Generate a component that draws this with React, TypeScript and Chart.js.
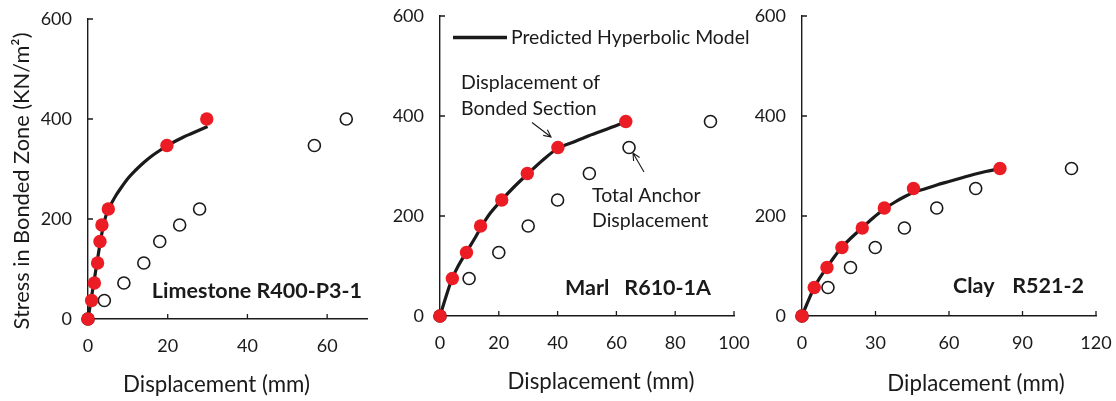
import { useEffect, useRef } from 'react';
import { Chart, registerables } from 'chart.js';

Chart.register(...registerables);

const W = 1116;
const H = 401;
const FONT = 'Lato, "Open Sans", sans-serif';
const INK = '#1a1a1a';
const RED = '#ec1c24';

// ---------------- Data ----------------
const yTicks = [0, 200, 400, 600];

// Limestone R400-P3-1
const limeXTicks = [0, 20, 40, 60];
const limeStress = [0, 37, 72, 112, 155, 188, 220, 347, 400];
const limeBonded = [0, 0.9, 1.6, 2.4, 3.0, 3.5, 5.1, 19.8, 29.8];
const limeTotal = [0, 4.1, 9, 14, 18, 23, 28, 56.8, 64.8];
const limeModelX = [0, 0.5, 1, 1.5, 2, 2.5, 3, 3.5, 4, 5, 6, 7, 8, 10, 12, 14, 16, 18, 20, 22, 24, 26, 28, 30];
const limeModelY = [0, 25, 50, 75, 100, 125, 150, 172, 192, 218, 233, 247, 259, 281, 298, 313, 326, 337, 347, 356, 364, 371, 378, 385];

// Marl R610-1A
const marlXTicks = [0, 20, 40, 60, 80, 100];
const marlStress = [0, 75, 127, 180, 232, 285, 337, 389];
const marlBonded = [0, 4.2, 9.0, 13.8, 21.0, 29.7, 40.1, 63.2];
const marlTotal = [0, 9.9, 20, 30, 40, 50.8, 64.3, 92];
const marlModelX = [0, 2, 4, 6, 9, 12, 14, 17, 21, 25, 30, 35, 40, 45, 50, 55, 60, 63];
const marlModelY = [0, 38, 73, 98, 128, 157, 178, 205, 232, 257, 285, 312, 335, 347, 359, 370, 381, 388];

// Clay R521-2
const clayXTicks = [0, 30, 60, 90, 120];
const clayStress = [0, 57, 97, 137, 176, 216, 255, 295];
const clayBonded = [0, 5.0, 10.2, 16.3, 24.6, 33.6, 45.5, 80.8];
const clayTotal = [0, 10.6, 19.8, 29.9, 41.8, 55, 70.9, 110];
const clayModelX = [0, 2, 5, 7.5, 10, 13, 16, 20, 24, 29, 33, 38, 42, 46, 50, 55, 60, 65, 70, 75, 80];
const clayModelY = [0, 24, 57, 78, 96, 117, 136, 156, 174, 196, 212, 228, 239, 248, 254, 262, 269, 276, 283, 289, 294];

const legendLabel = 'Predicted Hyperbolic Model';
const yTitle = 'Stress in Bonded Zone (KN/m\u00B2)';

// ---------------- Layout ----------------
type Txt = { t: string; x: number; y: number; bold?: boolean; size: number; align: CanvasTextAlign; rot?: boolean };
type Panel = {
  xMax: number; xTicks: number[]; stress: number[]; bonded: number[]; total: number[];
  modelX: number[]; modelY: number[];
  area: { left: number; right: number; top: number; bottom: number };
  texts: Txt[]; arrows: number[][]; legend: boolean;
};

const panels: Panel[] = [
  {
    xMax: 70, xTicks: limeXTicks, stress: limeStress, bonded: limeBonded, total: limeTotal,
    modelX: limeModelX, modelY: limeModelY,
    area: { left: 88, right: 367, top: 19, bottom: 319 },
    legend: false,
    texts: [
      { t: 'Limestone R400-P3-1', x: 362, y: 297.5, bold: true, size: 21.5, align: 'right' },
      { t: 'Displacement (mm)', x: 216.5, y: 392, size: 22.3, align: 'center' },
      { t: yTitle, x: 28.5, y: 181, size: 21.8, align: 'center', rot: true },
    ],
    arrows: [],
  },
  {
    xMax: 100, xTicks: marlXTicks, stress: marlStress, bonded: marlBonded, total: marlTotal,
    modelX: marlModelX, modelY: marlModelY,
    area: { left: 440, right: 734, top: 16, bottom: 316 },
    legend: true,
    texts: [
      { t: 'Marl', x: 565, y: 295, bold: true, size: 21.5, align: 'left' },
      { t: 'R610-1A', x: 711, y: 295, bold: true, size: 21.5, align: 'right' },
      { t: 'Displacement of', x: 461, y: 89, size: 19.5, align: 'left' },
      { t: 'Bonded Section', x: 461, y: 115, size: 19.5, align: 'left' },
      { t: 'Total Anchor', x: 592, y: 201.5, size: 19.5, align: 'left' },
      { t: 'Displacement', x: 592, y: 226.5, size: 19.5, align: 'left' },
      { t: 'Displacement (mm)', x: 601, y: 389, size: 22.3, align: 'center' },
    ],
    arrows: [[532, 122.5, 551, 137], [644, 172, 633, 153]],
  },
  {
    xMax: 120, xTicks: clayXTicks, stress: clayStress, bonded: clayBonded, total: clayTotal,
    modelX: clayModelX, modelY: clayModelY,
    area: { left: 802, right: 1096, top: 16, bottom: 316 },
    legend: false,
    texts: [
      { t: 'Clay', x: 953, y: 292.5, bold: true, size: 21.5, align: 'left' },
      { t: 'R521-2', x: 1084, y: 292.5, bold: true, size: 21.5, align: 'right' },
      { t: 'Diplacement (mm)', x: 976, y: 391, size: 22.3, align: 'center' },
    ],
    arrows: [],
  },
];

function pts(xs: number[], ys: number[]) {
  return xs.map((x, i) => ({ x, y: ys[i] }));
}

function decor(p: Panel) {
  return {
    id: 'decor',
    beforeDatasetsDraw(chart: any) {
      const { ctx, chartArea: a, scales } = chart;
      const xs = scales.x;
      const ys = scales.y;
      ctx.save();
      ctx.strokeStyle = INK;
      ctx.lineWidth = 1.3;
      ctx.beginPath();
      ys.ticks.forEach((t: any) => {
        if (t.value === 0) return;
        const py = ys.getPixelForValue(t.value);
        ctx.moveTo(a.left, py);
        ctx.lineTo(a.left + 5, py);
      });
      xs.ticks.forEach((t: any) => {
        if (t.value === 0) return;
        const px = xs.getPixelForValue(t.value);
        ctx.moveTo(px, a.bottom);
        ctx.lineTo(px, a.bottom - 5);
      });
      ctx.stroke();
      ctx.restore();
    },
    afterDraw(chart: any) {
      const { ctx } = chart;
      ctx.save();
      ctx.fillStyle = INK;
      ctx.textBaseline = 'alphabetic';
      p.texts.forEach((tx) => {
        ctx.font = `${tx.bold ? 'bold ' : ''}${tx.size}px ${FONT}`;
        ctx.textAlign = tx.align;
        if (tx.rot) {
          ctx.save();
          ctx.translate(tx.x, tx.y);
          ctx.rotate(-Math.PI / 2);
          ctx.fillText(tx.t, 0, 0);
          ctx.restore();
        } else {
          ctx.fillText(tx.t, tx.x, tx.y);
        }
      });
      // arrows (head at end point)
      ctx.strokeStyle = INK;
      ctx.lineWidth = 1.1;
      p.arrows.forEach(([x1, y1, x2, y2]) => {
        const ang = Math.atan2(y2 - y1, x2 - x1);
        const hl = 8;
        ctx.beginPath();
        ctx.moveTo(x1, y1);
        ctx.lineTo(x2, y2);
        ctx.moveTo(x2 - hl * Math.cos(ang - 0.45), y2 - hl * Math.sin(ang - 0.45));
        ctx.lineTo(x2, y2);
        ctx.lineTo(x2 - hl * Math.cos(ang + 0.45), y2 - hl * Math.sin(ang + 0.45));
        ctx.stroke();
      });
      if (p.legend) {
        const lx = 453;
        const ly = 37.5;
        ctx.strokeStyle = INK;
        ctx.lineWidth = 3.5;
        ctx.beginPath();
        ctx.moveTo(lx, ly);
        ctx.lineTo(lx + 54, ly);
        ctx.stroke();
        ctx.font = `19.4px ${FONT}`;
        ctx.textAlign = 'left';
        ctx.textBaseline = 'middle';
        ctx.fillText(chart.data.datasets[1].label, lx + 58, ly);
      }
      ctx.restore();
    },
  };
}

function makeConfig(p: Panel): any {
  return {
    type: 'scatter',
    data: {
      datasets: [
        {
          label: 'Displacement of Bonded Section',
          data: pts(p.bonded, p.stress),
          backgroundColor: RED,
          borderColor: RED,
          borderWidth: 0,
          pointRadius: 6.7,
          clip: false,
        },
        {
          label: legendLabel,
          data: pts(p.modelX, p.modelY),
          showLine: true,
          borderColor: INK,
          borderWidth: 3.2,
          pointRadius: 0,
          cubicInterpolationMode: 'monotone',
          clip: false,
        },
        {
          label: 'Total Anchor Displacement',
          data: pts(p.total, p.stress),
          backgroundColor: '#ffffff',
          borderColor: INK,
          borderWidth: 1.6,
          pointRadius: 6,
          clip: false,
        },
      ],
    },
    options: {
      responsive: false,
      animation: false,
      devicePixelRatio: 1,
      layout: { padding: { left: 0, top: p.area.top, right: W - p.area.right, bottom: 0 } },
      plugins: { legend: { display: false }, tooltip: { enabled: false } },
      scales: {
        x: {
          type: 'linear',
          min: 0,
          max: p.xMax,
          afterBuildTicks: (s: any) => { s.ticks = p.xTicks.map((v) => ({ value: v })); },
          afterFit: (s: any) => {
            s.height = H - p.area.bottom;
            s.paddingLeft = 0; s.paddingRight = 0; s.paddingTop = 0; s.paddingBottom = 0;
          },
          grid: { display: false, drawTicks: false, tickLength: 0 },
          border: { display: true, color: INK, width: 1.4 },
          ticks: { color: INK, padding: 16, font: { family: FONT, size: 18 } },
          title: { display: false },
        },
        y: {
          type: 'linear',
          min: 0,
          max: 600,
          afterBuildTicks: (s: any) => { s.ticks = yTicks.map((v) => ({ value: v })); },
          afterFit: (s: any) => {
            s.width = p.area.left;
            s.paddingLeft = 0; s.paddingRight = 0; s.paddingTop = 0; s.paddingBottom = 0;
          },
          grid: { display: false, drawTicks: false, tickLength: 0 },
          border: { display: true, color: INK, width: 1.4 },
          ticks: { color: INK, padding: 16, font: { family: FONT, size: 18 } },
          title: { display: false },
        },
      },
    },
    plugins: [decor(p)],
  };
}

export default function App() {
  const r1 = useRef<HTMLCanvasElement>(null);
  const r2 = useRef<HTMLCanvasElement>(null);
  const r3 = useRef<HTMLCanvasElement>(null);

  useEffect(() => {
    const refs = [r1, r2, r3];
    const charts = refs.map((r, i) => new Chart(r.current as HTMLCanvasElement, makeConfig(panels[i])));
    return () => charts.forEach((c) => c.destroy());
  }, []);

  const cs: any = { position: 'absolute', left: 0, top: 0, width: W, height: H };
  return (
    <div style={{ position: 'absolute', left: 0, top: 0, width: W, height: H, background: '#fff' }}>
      <canvas ref={r1} width={W} height={H} style={cs} />
      <canvas ref={r2} width={W} height={H} style={cs} />
      <canvas ref={r3} width={W} height={H} style={cs} />
    </div>
  );
}
